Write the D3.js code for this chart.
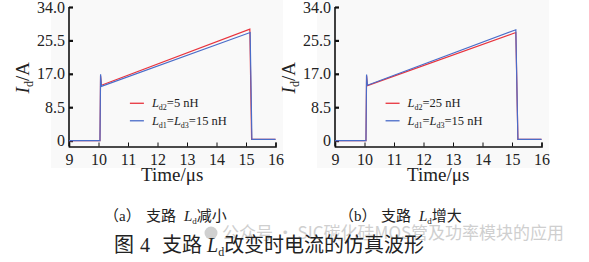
<!DOCTYPE html>
<html>
<head>
<meta charset="utf-8">
<script src="https://cdn.jsdelivr.net/npm/d3@7"></script>
<style>
    body { margin: 0; background: #fff; }
    svg { display: block; }
    .tick-label { font-family: "Liberation Serif", serif; font-size: 16px; fill: #222; }
    .cap { font-family: "Liberation Serif", "Noto Sans CJK SC", serif; fill: #222; }
</style>
</head>
<body>
<svg id="chart" width="589" height="262"></svg>
<script>
'use strict';

// time (us), current (A)
const xTicks = [9, 10, 11, 12, 13, 14, 15, 16];
const yTicks = [0, 8.5, 17.0, 25.5, 34.0];

const leftRed = [[9, 0], [10.05, 0], [10.07, 16.5], [10.1, 14.1], [15.13, 28.35], [15.19, 0.3], [16, 0.3]];
const leftBlue = [[9, 0], [10.05, 0], [10.07, 16.9], [10.1, 13.8], [15.14, 27.5], [15.2, 0.3], [16, 0.3]];
const rightRed = [[9, 0], [10.05, 0], [10.07, 16.5], [10.1, 14.0], [15.13, 27.5], [15.2, 0.3], [16, 0.3]];
const rightBlue = [[9, 0], [10.05, 0], [10.07, 16.8], [10.1, 14.1], [15.13, 28.2], [15.2, 0.3], [16, 0.3]];

const legendLeft = [['d2', '=5 nH'], ['d1', '=', 'd3', '=15 nH']];
const legendRight = [['d2', '=25 nH'], ['d1', '=', 'd3', '=15 nH']];

const RED = '#e8333d';
const BLUE = '#4a6cc9';

const svg = d3.select('#chart');

function panel(x0, seriesRed, seriesBlue, legend, legendAt) {
    const x = d3.scaleLinear().domain([9, 16]).range([x0, x0 + 206.5]);
    const y = d3.scaleLinear().domain([-1.5, 34]).range([146.5, 7]);

    const g = svg.append('g');

    g.append('rect')
        .attr('x', x0 - 18).attr('y', 0)
        .attr('width', 232).attr('height', 168)
        .attr('fill', '#f9f9f9');

    const xAxis = g.append('g')
        .attr('transform', 'translate(0,146.5)')
        .call(d3.axisBottom(x).tickValues(xTicks).tickSize(-4).tickPadding(7).tickFormat(d3.format('d')));
    xAxis.select('.domain').attr('stroke', '#111').attr('stroke-width', 1.6);
    xAxis.selectAll('.tick line').attr('stroke', '#111').attr('stroke-width', 1);
    xAxis.selectAll('text').attr('class', 'tick-label');

    const yAxis = g.append('g')
        .attr('transform', `translate(${x0},0)`)
        .call(d3.axisLeft(y).tickValues(yTicks).tickSize(-4).tickPadding(4)
            .tickFormat(d => d === 0 ? '0' : d3.format('.1f')(d)));
    yAxis.select('.domain').attr('stroke', '#111').attr('stroke-width', 1.6)
        .attr('d', `M0,${y(34)}V146.5`);
    yAxis.selectAll('.tick line').attr('stroke', '#111').attr('stroke-width', 2.2);
    yAxis.selectAll('text').attr('class', 'tick-label');

    const line = d3.line().x(d => x(d[0])).y(d => y(d[1]));
    g.append('path').datum(seriesRed).attr('d', line)
        .attr('fill', 'none').attr('stroke', RED).attr('stroke-width', 1.2);
    g.append('path').datum(seriesBlue).attr('d', line)
        .attr('fill', 'none').attr('stroke', BLUE).attr('stroke-width', 1.2);

    // legend
    const lx = x(legendAt);
    [RED, BLUE].forEach((c, i) => {
        const ly = y(9.5) + i * 17.5;
        g.append('line').attr('x1', lx - 22).attr('x2', lx - 8).attr('y1', ly).attr('y2', ly)
            .attr('stroke', c).attr('stroke-width', 1.3);
        const t = g.append('text').attr('x', lx).attr('y', ly + 4)
            .attr('font-family', 'Liberation Serif').attr('font-size', 12.5).attr('fill', '#222');
        const parts = legend[i];
        t.append('tspan').attr('font-style', 'italic').text('L');
        t.append('tspan').attr('font-size', 8).attr('dy', 3).text(parts[0]);
        t.append('tspan').attr('dy', -3).text(parts[1]);
        if (parts.length > 2) {
            t.append('tspan').attr('font-style', 'italic').text('L');
            t.append('tspan').attr('font-size', 8).attr('dy', 3).text(parts[2]);
            t.append('tspan').attr('dy', -3).text(parts[3]);
        }
    });

    // axis titles
    const yl = g.append('text')
        .attr('transform', `translate(${x0 - 40},${y(16)}) rotate(-90)`)
        .attr('text-anchor', 'middle')
        .attr('font-family', 'Liberation Serif').attr('font-size', 19).attr('fill', '#222');
    yl.append('tspan').attr('font-style', 'italic').text('I');
    yl.append('tspan').attr('font-size', 12).attr('dy', 4).text('d');
    yl.append('tspan').attr('dy', -4).text('/A');

    g.append('text')
        .attr('x', x(12.5)).attr('y', 181)
        .attr('text-anchor', 'middle')
        .attr('font-family', 'Liberation Serif').attr('font-size', 19).attr('fill', '#222')
        .text('Time/\u03bcs');
}

panel(69, leftRed, leftBlue, legendLeft, 11.81);
panel(335, rightRed, rightBlue, legendRight, 11.46);

// watermark (sits behind the figure caption)
svg.append('circle').attr('cx', 211).attr('cy', 233).attr('r', 6.5).attr('fill', '#d0d0d0');
svg.append('text').attr('x', 222).attr('y', 239)
    .attr('font-family', 'Noto Sans CJK SC').attr('font-size', 17).attr('fill', '#cfcfcf')
    .text('公众号 · SIC碳化硅MOS管及功率模块的应用');

// sub captions
function sub(xp, letter, word) {
    const t = svg.append('text').attr('class', 'cap').attr('y', 221).attr('font-size', 15);
    t.append('tspan').attr('x', xp - 8).text('\uff08' + letter + '\uff09');
    t.append('tspan').attr('x', xp + 34).text('支路');
    t.append('tspan').attr('x', xp + 72).attr('font-style', 'italic').text('L');
    t.append('tspan').attr('font-size', 9).attr('dy', 3).text('d');
    t.append('tspan').attr('dy', -3).text(word);
}
sub(112, 'a', '减小');
sub(347, 'b', '增大');

const cap = svg.append('text').attr('class', 'cap').attr('y', 252).attr('font-size', 20);
cap.append('tspan').attr('x', 114).text('图');
cap.append('tspan').attr('x', 140).text('4');
cap.append('tspan').attr('x', 162).text('支路');
cap.append('tspan').attr('x', 207).attr('font-style', 'italic').text('L');
cap.append('tspan').attr('font-size', 12).attr('dy', 4).text('d');
cap.append('tspan').attr('dy', -4).text('改变时电流的仿真波形');
</script>
</body>
</html>
